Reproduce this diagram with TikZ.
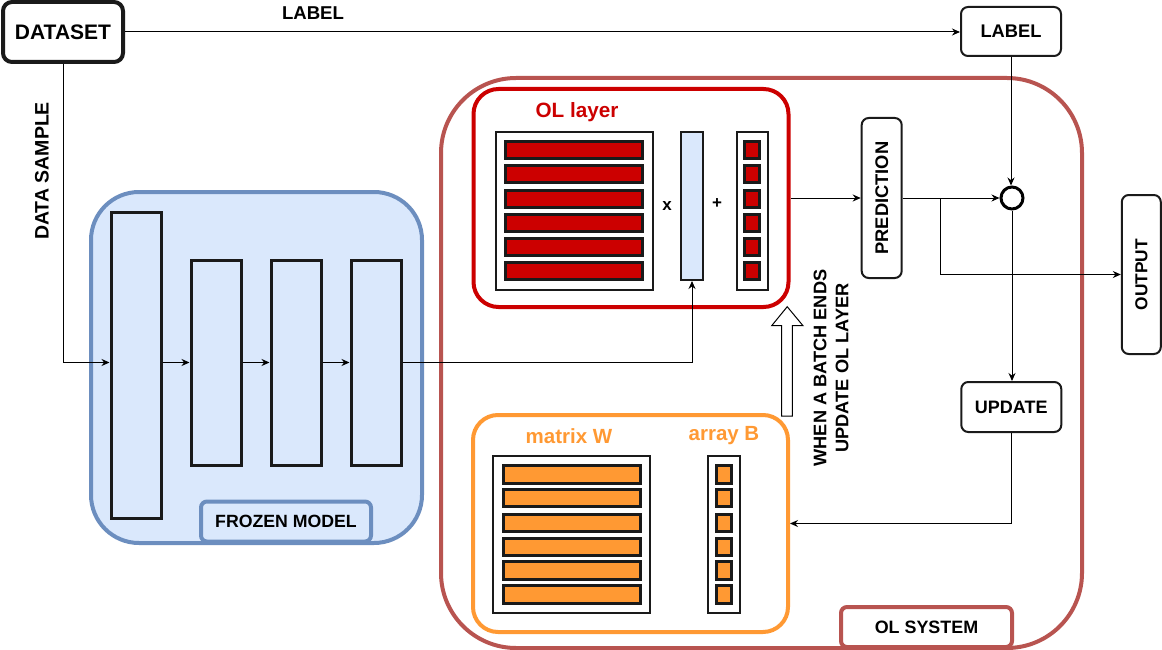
\documentclass[tikz,border=0pt]{standalone}
\usepackage{fontspec}
\setmainfont{Liberation Sans}
\usetikzlibrary{arrows.meta,positioning,calc}
\definecolor{bfill}{HTML}{DAE8FC}
\definecolor{bdraw}{HTML}{6C8EBF}
\definecolor{olred}{HTML}{CC0000}
\definecolor{olsys}{HTML}{B85450}
\definecolor{org}{HTML}{FF9933}
\definecolor{dk}{HTML}{1A1A1A}
\newcommand{\fs}[1]{\fontsize{#1}{#1}\selectfont\bfseries}
\tikzset{
  rbox/.style={draw=dk,line width=2pt,rounded corners=7pt,fill=white,inner sep=0pt,font=\fs{18}},
  layer/.style={draw=dk,line width=3pt,fill=bfill,inner sep=0pt},
  frame/.style={draw=dk,line width=2pt,fill=white,inner sep=0pt},
  redcell/.style={draw=dk,line width=3pt,fill=olred,inner sep=0pt},
  orgcell/.style={draw=dk,line width=3pt,fill=org,inner sep=0pt},
  arr/.style={-{Stealth[length=8pt,width=7pt]},line width=1pt,draw=black},
}
\begin{document}
\begin{tikzpicture}[x=1pt,y=-1pt]
\useasboundingbox (0,0) rectangle (1162,650);
% OL system container
\node[draw=olsys,line width=4pt,rounded corners=75pt,minimum width=641,minimum height=570,inner sep=0pt] (olsystem) at (761.5,363) {};
% frozen model container
\node[draw=bdraw,fill=bfill,line width=4pt,rounded corners=48pt,minimum width=331,minimum height=351,inner sep=0pt] (frozen) at (256.5,367.5) {};
\node[draw=bdraw,fill=bfill,line width=4pt,rounded corners=6pt,minimum width=170,minimum height=40,inner sep=0pt,font=\fs{17.7}] (frozenlbl) at (286,521.5) {FROZEN MODEL};
% frozen layers
\node[layer,minimum width=50,minimum height=306] (b1) at (136,365) {};
\node[layer,minimum width=50,minimum height=205] (b2) at (216,362.5) {};
\node[layer,minimum width=50,minimum height=205] (b3) at (296,362.5) {};
\node[layer,minimum width=50,minimum height=205] (b4) at (376,362.5) {};
% dataset and label
\node[draw=dk,line width=4pt,rounded corners=9pt,fill=white,minimum width=120,minimum height=60,inner sep=0pt,font=\fs{21}] (dataset) at (63,32) {DATASET};
\node[rbox,minimum width=100,minimum height=49,font=\fs{18.3}] (labelbox) at (1011,31.5) {LABEL};
\node[font=\fs{18.6}] (labeltxt) at (313,13) {LABEL};
\node[font=\fs{19.5},rotate=90] (dstxt) at (42,171) {DATA SAMPLE};
% OL layer
\node[draw=olred,line width=4pt,rounded corners=25pt,fill=white,minimum width=315,minimum height=218,inner sep=0pt] (ol) at (631,198) {};
\node[text=olred,font=\fs{20.7}] (oltxt) at (577,112) {OL layer};
\node[frame,minimum width=157,minimum height=158] (wframe) at (574.5,211) {};
\node[frame,minimum width=31,minimum height=158] (bframe) at (752,211) {};
\node[draw=dk,line width=2pt,fill=bfill,inner sep=0pt,minimum width=22,minimum height=148] (vec) at (692,206) {};
\foreach \i/\y in {1/150.5,2/174,3/199,4/222.5,5/246.5,6/270.5}{
  \node[redcell,minimum width=137,minimum height=17] (wr\i) at (574.4,\y) {};
  \node[redcell,minimum width=15,minimum height=17] (br\i) at (752,\y) {};
}
\node[font=\fs{17}] (xop) at (667,206) {x};
\node[font=\fs{17}] (plusop) at (717,204) {+};
% orange box
\node[draw=org,line width=4pt,rounded corners=25pt,fill=white,minimum width=315,minimum height=217,inner sep=0pt] (orange) at (630.5,523.5) {};
\node[text=org,font=\fs{20.5}] (mwtxt) at (569,436) {matrix W};
\node[text=org,font=\fs{20.5}] (abtxt) at (724,436) {array B};
\node[frame,minimum width=157,minimum height=157] (owframe) at (571.7,534.2) {};
\node[frame,minimum width=31.7,minimum height=157] (obframe) at (724.2,534.2) {};
\foreach \i/\y in {1/474.5,2/498,3/523,4/547,5/570.5,6/594.5}{
  \node[orgcell,minimum width=137,minimum height=17.5] (owr\i) at (572,\y) {};
  \node[orgcell,minimum width=15,minimum height=17.5] (obr\i) at (724.3,\y) {};
}
% right side
\node[rbox,minimum width=40,minimum height=160] (pred) at (881.7,198) {};
\node[font=\fs{18.3},rotate=90] (predtxt) at (pred.center) {PREDICTION};
\node[draw=black,line width=3pt,circle,minimum size=22,inner sep=0pt,fill=white] (cmp) at (1012,198) {};
\node[rbox,minimum width=39,minimum height=159] (output) at (1141.3,274.5) {};
\node[font=\fs{17.3},rotate=90] (outtxt) at (1141.3,274.5) {OUTPUT};
\node[rbox,minimum width=100,minimum height=50,font=\fs{18}] (update) at (1011.3,407) {UPDATE};
\node[draw=olsys,line width=4pt,rounded corners=6pt,fill=white,minimum width=171,minimum height=40,inner sep=0pt,font=\fs{17.9}] (olsyslbl) at (926.5,627) {OL SYSTEM};
% hollow arrow
\draw[line width=1pt,fill=white] (781.7,416)--(781.7,325.7)--(771.7,325.7)--(787.2,306.7)--(803,325.7)--(792.3,325.7)--(792.3,416)--cycle;
\node[font=\fontsize{18.2}{22}\selectfont\bfseries,rotate=90,align=center] (batchtxt) at (831,368) {WHEN A BATCH ENDS\\UPDATE OL LAYER};
% connectors
\draw[arr] (dataset.east) -- (dataset.east -| labelbox.west);
\draw[arr] (dataset.south) |- (b1.west |- b2.west);
\draw[arr] (b1.east |- b2.west) -- (b2.west);
\draw[arr] (b2.east) -- (b3.west);
\draw[arr] (b3.east) -- (b4.west);
\draw[arr] (b4.east) -| (vec.south);
\draw[arr] (ol.east) -- (ol.east -| pred.west);
\draw[arr] (pred.east) -- (cmp.west);
\coordinate (branch) at (940,198);
\draw[arr] (branch) |- (output.west);
\draw[arr] (labelbox.south) -- (labelbox.south |- cmp.north);
\draw[arr] (cmp.south) -- (cmp.south |- update.north);
\draw[arr] (update.south) |- (orange.east);
\end{tikzpicture}
\end{document}
